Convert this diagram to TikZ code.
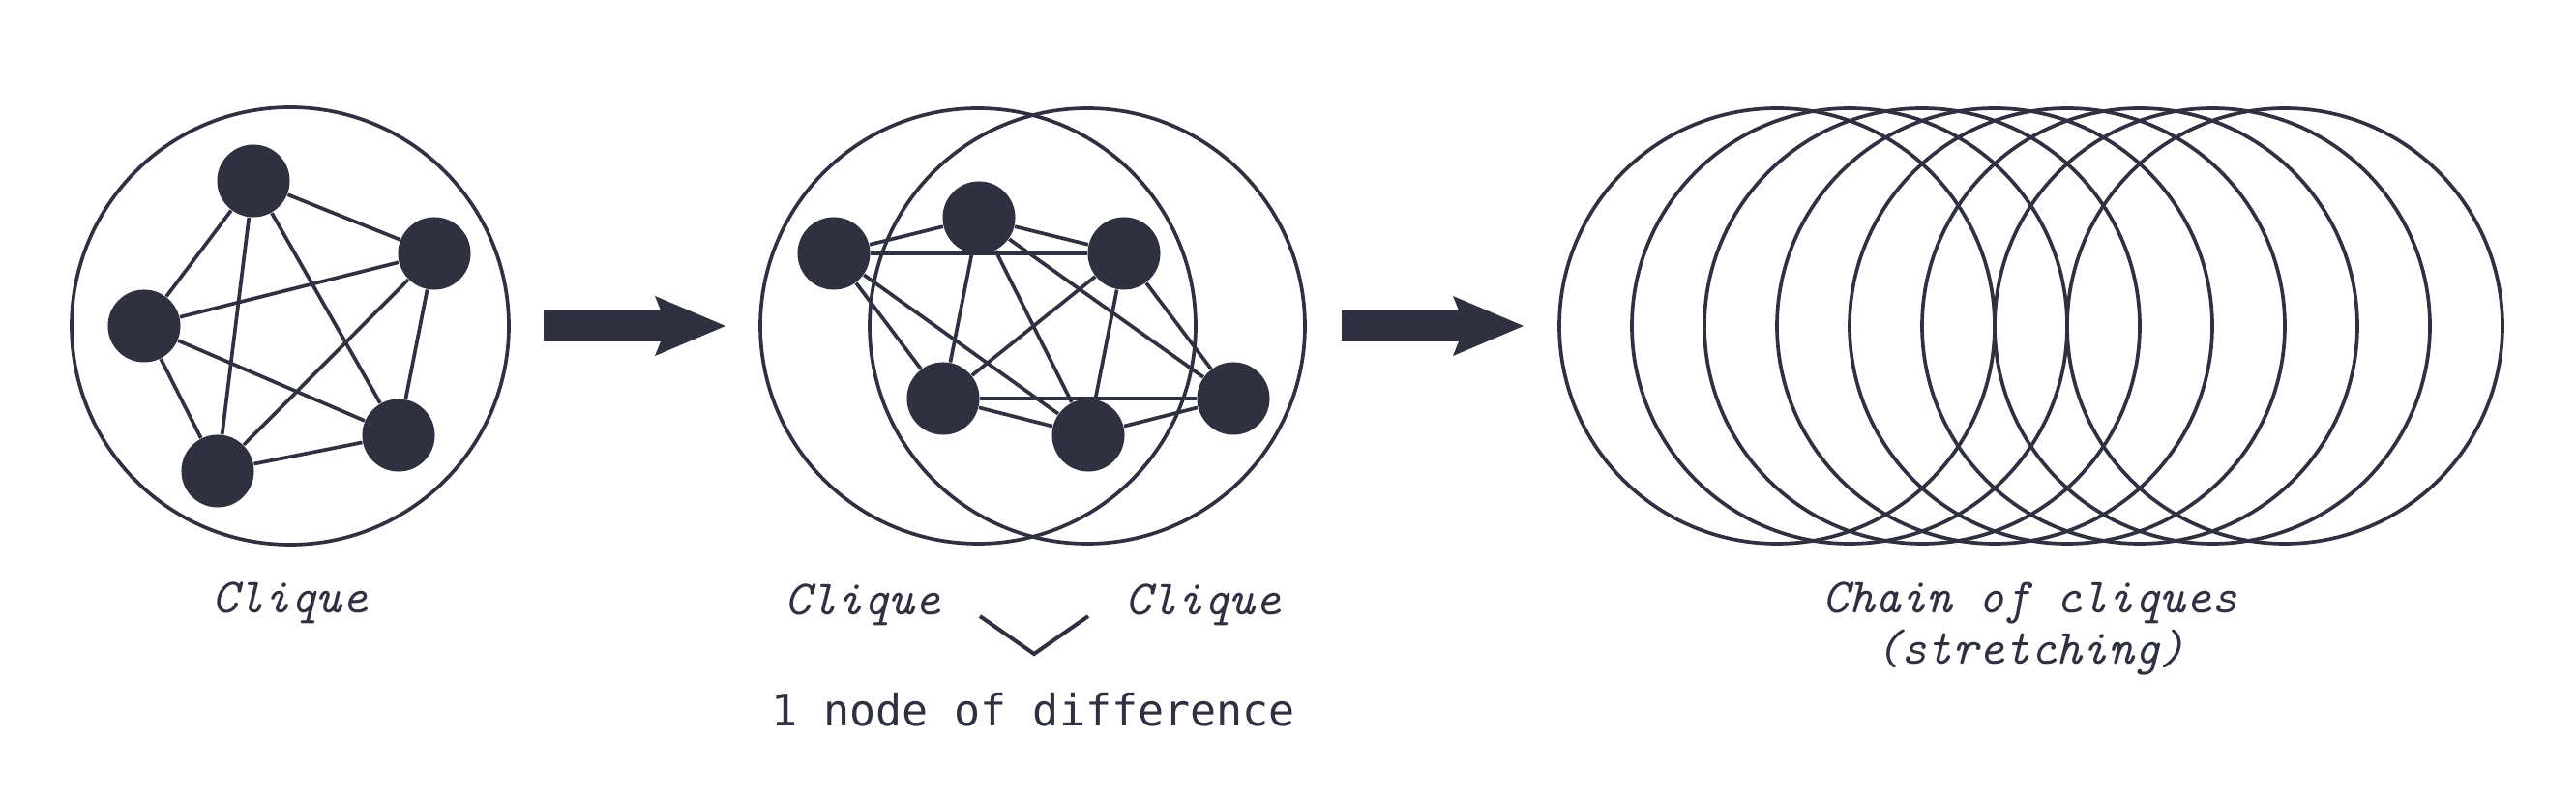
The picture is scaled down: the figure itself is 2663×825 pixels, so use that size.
\documentclass[tikz,border=0pt]{standalone}
\usepackage{fontspec}
\newfontfamily\monoup{DejaVu Sans Mono}
\definecolor{ink}{HTML}{2F3140}
\begin{document}
\begin{tikzpicture}[x=0.01cm,y=-0.01cm,
  ring/.style={draw=ink, line width=1.05pt},
  vtx/.style={circle, fill=ink, minimum size=0.75cm, inner sep=0pt},
  link/.style={draw=ink, line width=1.05pt},
  bigarrow/.style={fill=ink, draw=none},
  lbl/.style={font=\ttfamily\itshape\fontsize{14.5}{17}\selectfont, text=ink, anchor=base, inner sep=0pt},
  plain/.style={font=\monoup\fontsize{12.8}{15}\selectfont, text=ink, anchor=base, inner sep=0pt}]
\useasboundingbox (0,0) rectangle (2663,825);

% ---- first clique ----
\draw[ring] (300,337) circle[radius=226];
\node[vtx] (p1) at (262,187) {};
\node[vtx] (p2) at (449,262) {};
\node[vtx] (p3) at (149,337) {};
\node[vtx] (p4) at (412,450) {};
\node[vtx] (p5) at (225,487) {};
\foreach \a/\b in {p1/p2,p1/p3,p1/p4,p1/p5,p2/p3,p2/p4,p2/p5,p3/p4,p3/p5,p4/p5}
  \draw[link] (\a) -- (\b);
\node[lbl] (t1) at (300,634) {Clique};

% ---- arrow 1 ----
\coordinate (a1t) at (750,337);
\fill[bigarrow] (562,321) -- (683,321) -- (677,306) -- (a1t) -- (677,368) -- (683,353) -- (562,353) -- cycle;

% ---- two overlapping cliques ----
\draw[ring] (1011,337) circle[radius=225];
\draw[ring] (1124,337) circle[radius=225];
\node[vtx] (qa) at (862,262) {};
\node[vtx] (qb) at (1012,225) {};
\node[vtx] (qc) at (1162,262) {};
\node[vtx] (qd) at (975,412) {};
\node[vtx] (qe) at (1125,450) {};
\node[vtx] (qf) at (1275,412) {};
\foreach \a/\b in {qa/qb,qa/qc,qa/qd,qa/qe,qb/qc,qb/qd,qb/qe,qc/qd,qc/qe,qd/qe,qb/qf,qc/qf,qd/qf,qe/qf}
  \draw[link] (\a) -- (\b);
\node[lbl] (t2) at (892,636) {Clique};
\node[lbl] (t3) at (1244,636) {Clique};
\coordinate (v1) at (1013,637);
\coordinate (v2) at (1069,676);
\coordinate (v3) at (1125,637);
\draw[ink, line width=1.15pt] (v1) -- (v2) -- (v3);
\node[plain] (t4) at (1068,751) {1 node of difference};

% ---- arrow 2 ----
\coordinate (a2t) at (1575,337);
\fill[bigarrow] (1387,321) -- (1508,321) -- (1502,306) -- (a2t) -- (1502,368) -- (1508,353) -- (1387,353) -- cycle;

% ---- chain of cliques ----
\foreach \k in {0,...,7}
  \draw[ring] (1837+75*\k,337) circle[radius=225];
\node[lbl] (t5) at (2099,634) {Chain of cliques};
\node[lbl] (t6) at (2099,687) {(stretching)};
\end{tikzpicture}
\end{document}
